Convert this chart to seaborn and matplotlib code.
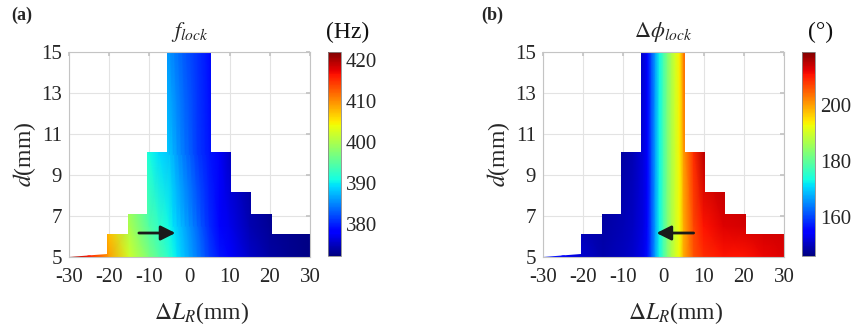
import numpy as np
import matplotlib
matplotlib.use('Agg')
import matplotlib.pyplot as plt
from matplotlib.path import Path
from matplotlib.patches import PathPatch
import seaborn as sns

# grid nodes (mm)
dL_nodes = [-30, -25, -20, -15, -10, -7.5, -5, -4, -3, -2, -1, 0, 1, 2, 3, 4, 5, 7.5, 10, 15, 20, 25, 30]
d_nodes = [5, 6.5, 10, 15]

# locking frequency (Hz), one row per d node
f_lock = [
    [421, 416, 409, 402, 397, 394.5, 392, 390.8, 389.6, 388.5, 387.5, 386.5, 385.5, 384.5, 383.5, 382.5, 381.5, 379.5, 378, 375.5, 373.8, 373, 372.5],
    [420, 415, 407, 400, 394.5, 392.5, 390.5, 389.5, 388.5, 387.5, 386.5, 385.5, 384.5, 383.5, 382.5, 381.5, 380.5, 378.5, 377, 374.5, 373.2, 372.8, 372.4],
    [418, 413, 405, 397, 391, 389.3, 388, 387, 386, 385, 384, 383.2, 382.2, 381.3, 380.6, 380, 379.5, 377.5, 375.5, 373.5, 372.8, 372.5, 372.3],
    [416, 411, 403, 395, 389, 387, 385.5, 384.8, 384, 383.3, 382.6, 382, 381.4, 380.8, 380.2, 379.6, 379, 377, 375, 373, 372.5, 372.3, 372.2],
]

# locking phase difference (deg)
dphi_lock = [
    [157, 155, 151, 149, 150, 151, 153, 156, 161, 167, 173, 178, 183, 187, 190, 193, 199, 206, 209, 211, 211, 212, 213],
    [156, 154, 149, 148.5, 149.5, 150.5, 152.5, 155.5, 161, 167, 173, 178, 183, 187, 190, 193, 199, 207, 211, 213, 213.5, 214, 214],
    [155, 153, 148, 148, 148.5, 149.5, 152, 155, 161, 167, 173, 178, 183, 187, 190, 193.5, 200, 209, 215, 216, 216, 216, 216],
    [155, 153, 148, 147.5, 148, 149, 151.5, 155, 161, 167, 173, 178, 183, 187, 190.5, 194, 203, 210, 216, 217, 217, 217, 217],
]

# stepped locking region outline (dL, d)
region_x = [-30, 30, 30, 20.5, 20.5, 15.4, 15.4, 10.3, 10.3, 5.4, 5.4, -5.5, -5.5, -10.6, -10.6, -15.4, -15.4, -20.5, -20.5, -30]
region_y = [5, 5, 6.1, 6.1, 7.1, 7.1, 8.15, 8.15, 10.1, 10.1, 15, 15, 10.1, 10.1, 7.1, 7.1, 6.1, 6.1, 5.15, 5.15]

x_ticks = [-30, -20, -10, 0, 10, 20, 30]
y_ticks = [5, 7, 9, 11, 13, 15]

sns.set_theme(style='white')
plt.rcParams['font.family'] = ['Liberation Serif', 'DejaVu Serif']
plt.rcParams['mathtext.fontset'] = 'stix'
plt.rcParams['axes.unicode_minus'] = False

fig = plt.figure(figsize=(8.55, 3.26), dpi=100)

panels = [
    dict(z=f_lock, lim=(372.2, 422), ticks=[380, 390, 400, 410, 420], title=r'$f_{lock}$', unit='(Hz)',
         tag='(a)', ax_left=69, cb_left=328, arrow=(-12.6, -3.5, 6.17), tag_x=11, unit_x=348),
    dict(z=dphi_lock, lim=(146, 219), ticks=[160, 180, 200], title=r'$\Delta\phi_{lock}$', unit='(°)',
         tag='(b)', ax_left=543, cb_left=802, arrow=(7.5, -1.75, 6.17), tag_x=481, unit_x=821),
]

W, H = 855, 326
for p in panels:
    ax = fig.add_axes([p['ax_left'] / W, (H - 257) / H, 241 / W, 205 / H])
    cax = fig.add_axes([p['cb_left'] / W, (H - 256) / H, 13 / W, 204 / H])

    X, Y = np.meshgrid(dL_nodes, d_nodes)
    mesh = ax.pcolormesh(X, Y, np.array(p['z']), shading='gouraud', cmap='jet',
                         vmin=p['lim'][0], vmax=p['lim'][1], zorder=2)
    outline = PathPatch(Path(np.column_stack([region_x, region_y]), closed=True),
                        transform=ax.transData, facecolor='none', edgecolor='none')
    ax.add_patch(outline)
    mesh.set_clip_path(outline)

    x0, x1, ya = p['arrow']
    ax.annotate('', xy=(x1, ya), xytext=(x0, ya),
                arrowprops=dict(arrowstyle='-|>', color='k', lw=2, mutation_scale=22,
                                shrinkA=0, shrinkB=0), zorder=5)

    ax.set_xlim(-30, 30)
    ax.set_ylim(5, 15)
    ax.set_xticks(x_ticks)
    ax.set_yticks(y_ticks)
    ax.grid(True, color='#e3e3e3', lw=0.8, zorder=0)
    ax.set_axisbelow(True)
    for s in ax.spines.values():
        s.set_color('#c4c4c4')
        s.set_linewidth(0.8)
    ax.tick_params(direction='in', length=3, color='#c4c4c4', labelsize=15,
                   labelcolor='#262626', top=True, right=True)
    ax.tick_params(axis='x', pad=8)
    ax.tick_params(axis='y', pad=5)
    ax.set_xlabel(r'$\Delta L_R$(mm)', fontsize=17, color='#262626')
    ax.xaxis.set_label_coords(0.55, -0.21)
    ax.set_ylabel(r'$d$(mm)', fontsize=17, color='#262626', labelpad=2)
    ax.set_title(p['title'], fontsize=16, pad=11)

    cb = fig.colorbar(mesh, cax=cax)
    cb.set_ticks(p['ticks'])
    cb.outline.set_edgecolor('#888888')
    cb.outline.set_linewidth(0.6)
    cax.tick_params(labelsize=15, labelcolor='#262626', length=3, direction='in', color='#888888')

    fig.text(p['unit_x'] / W, 1 - 32 / H, p['unit'], fontsize=17, ha='center', va='center', color='#111111')
    fig.text(p['tag_x'] / W, 1 - 15 / H, p['tag'], fontsize=13, fontweight='bold', ha='left', va='center')

fig.savefig('out.png', dpi=100)
